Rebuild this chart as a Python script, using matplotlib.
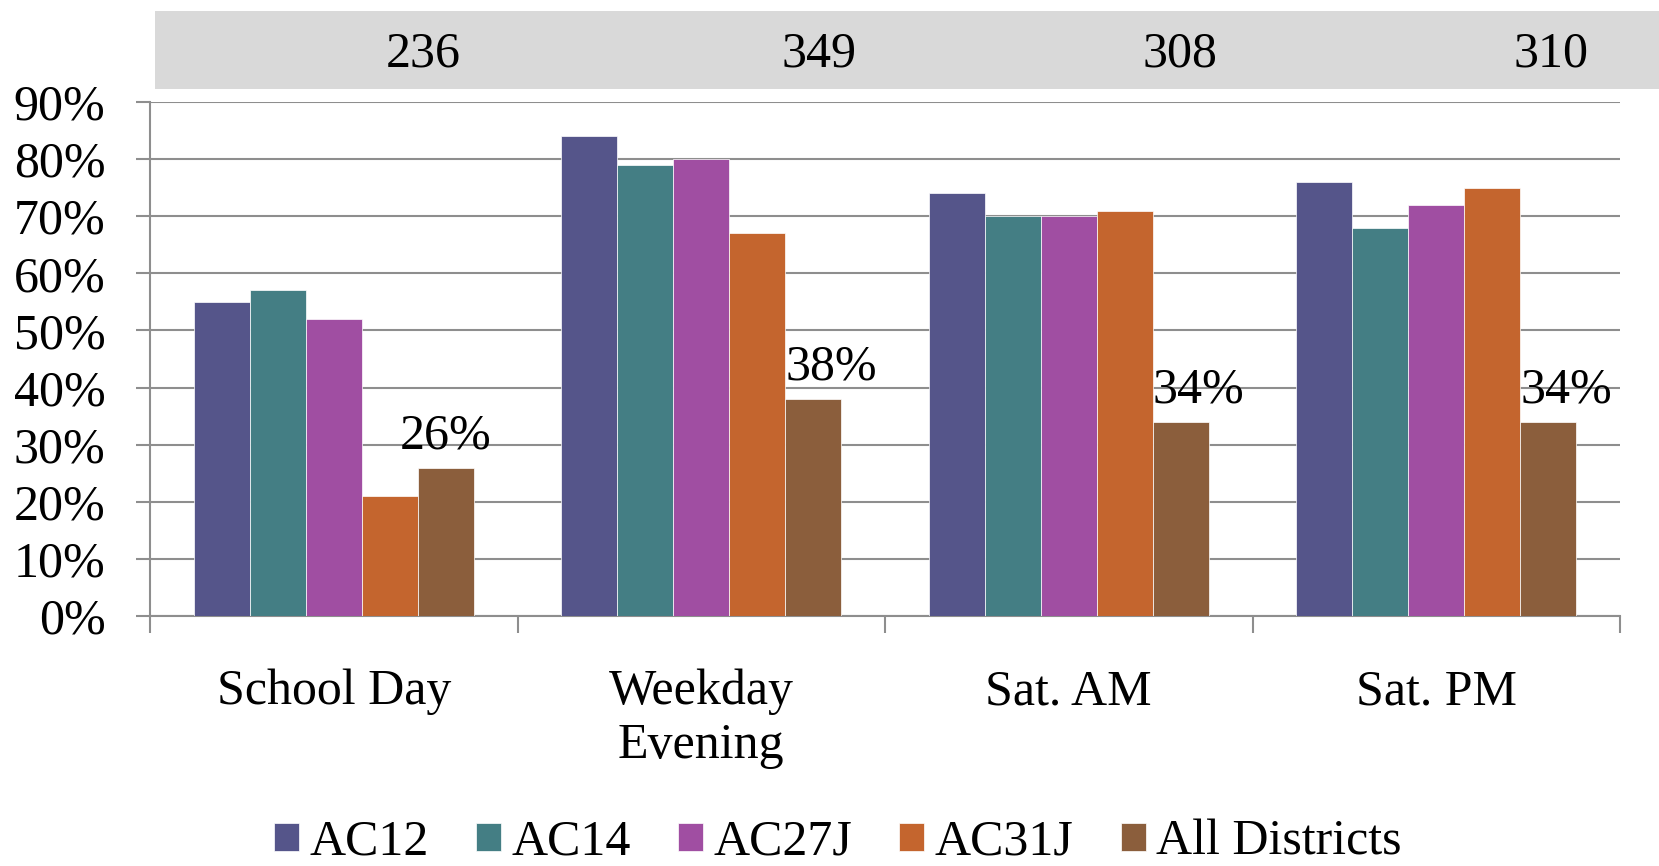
import matplotlib
matplotlib.use("Agg")
import matplotlib.pyplot as plt
import matplotlib.transforms as mtransforms
from matplotlib.patches import Rectangle
import numpy as np

plt.rcParams['font.family'] = ['Liberation Serif', 'DejaVu Serif']

categories = ["School Day", "Weekday\nEvening", "Sat. AM", "Sat. PM"]
series_names = ["AC12", "AC14", "AC27J", "AC31J", "All Districts"]
ac12 = [55, 84, 74, 76]
ac14 = [57, 79, 70, 68]
ac27j = [52, 80, 70, 72]
ac31j = [21, 67, 71, 75]
all_districts = [26, 38, 34, 34]
counts = ["236", "349", "308", "310"]
data_labels = ["26%", "38%", "34%", "34%"]
yticks = [0, 10, 20, 30, 40, 50, 60, 70, 80, 90]

colors = ["#55558A", "#447E84", "#A04EA2", "#C4652E", "#8B5E3C"]
count_offsets = [0.243, 0.32, 0.303, 0.312]
label_align = ["center", "left", "left", "left"]

W, H = 1659, 866
fig = plt.figure(figsize=(W / 100, H / 100), dpi=100)
ax = fig.add_axes([150 / W, 250 / H, 1470 / W, 514 / H])
ax.set_zorder(1)
ax.patch.set_alpha(0)

# gray header band
fig.patches.append(Rectangle((155 / W, (H - 89) / H), 1 - 155 / W, 78 / H,
                             transform=fig.transFigure, facecolor="#D9D9D9",
                             edgecolor="none", zorder=-1))

series = [ac12, ac14, ac27j, ac31j, all_districts]
x = np.arange(len(categories))
bw = 0.1525
for i, (name, vals) in enumerate(zip(series_names, series)):
    ax.bar(x + (i - 2) * bw, vals, width=bw, color=colors[i], label=name,
           edgecolor="#ffffff", linewidth=0.5, zorder=3)

fs = 36
# data labels on All Districts
for j, (lab, v) in enumerate(zip(data_labels, all_districts)):
    if label_align[j] == "center":
        xx = x[j] + 2 * bw
    else:
        xx = x[j] + 1.5 * bw
    ax.annotate(lab, (xx, v), xytext=(0, 14), textcoords="offset points",
                ha=label_align[j], va="baseline", fontsize=fs, zorder=4)

# counts in header band
trans = mtransforms.blended_transform_factory(ax.transData, fig.transFigure)
for j, c in enumerate(counts):
    ax.text(x[j] + count_offsets[j], (H - 54) / H, c, transform=trans,
            ha="center", va="center", fontsize=fs, clip_on=False, zorder=5)

ax.set_xlim(-0.5, 3.5)
ax.set_ylim(0, 90)
ax.set_yticks(yticks)
ax.set_yticklabels([f"{t}%" for t in yticks])
ax.set_xticks(x)
ax.set_xticklabels(categories, linespacing=1.2)
ax.set_xticks(np.arange(-0.5, 4.0, 1.0), minor=True)

gc = "#8E8E8E"
ax.grid(axis="y", color=gc, linewidth=1.5, zorder=0)
ax.set_axisbelow(True)
for s in ["top", "right"]:
    ax.spines[s].set_visible(False)
for s in ["left", "bottom"]:
    ax.spines[s].set_color(gc)
    ax.spines[s].set_linewidth(1.5)

ax.tick_params(axis="y", direction="out", length=10, width=1.5, color=gc,
               pad=22, labelsize=fs)
ax.tick_params(axis="x", which="major", length=0, pad=38, labelsize=fs)
ax.tick_params(axis="x", which="minor", direction="out", length=12, width=1.5,
               color=gc)

fig.legend(loc="center", bbox_to_anchor=(0.505, 0.027), ncol=5, frameon=False,
           fontsize=fs, handlelength=0.5, handleheight=0.5, handletextpad=0.2,
           columnspacing=0.95, borderaxespad=0)

fig.savefig("out.png", dpi=100)
